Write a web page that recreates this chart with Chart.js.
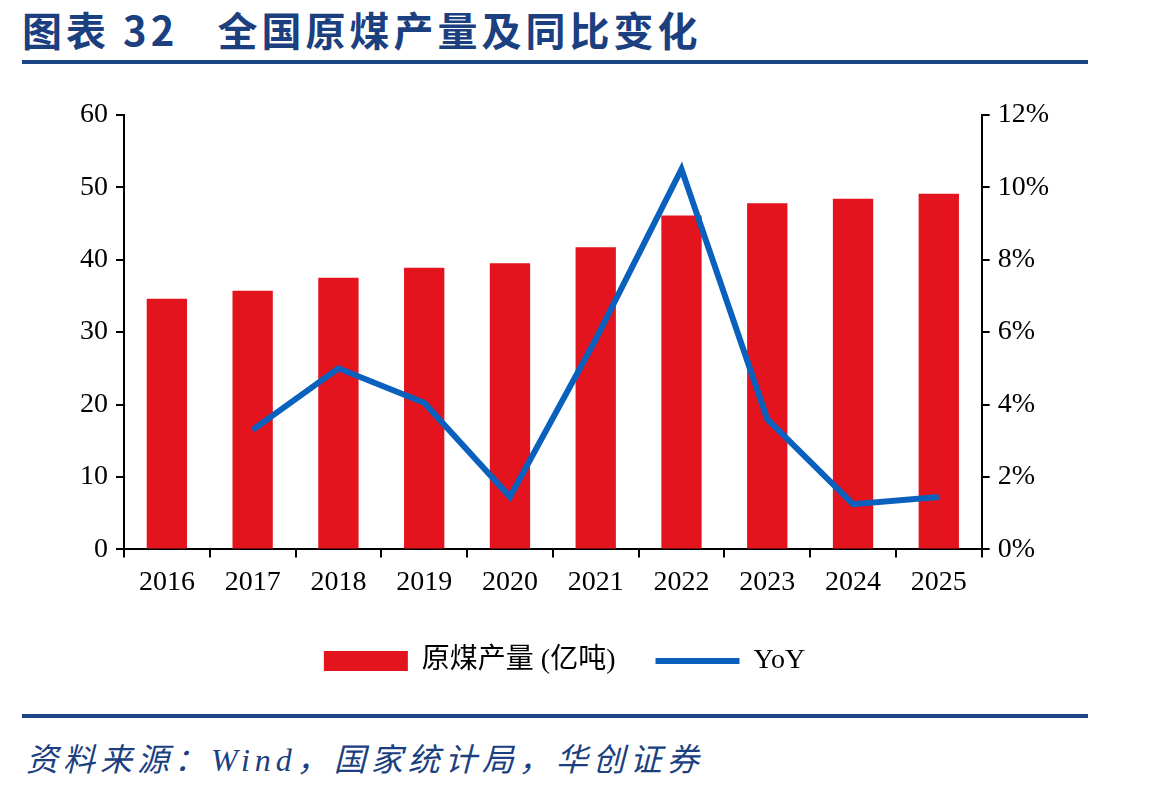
<!DOCTYPE html>
<html>
<head>
<meta charset="utf-8">
<script src="https://cdn.jsdelivr.net/npm/chart.js@4.4.1/dist/chart.umd.min.js"></script>
<style>
  body { margin: 0; background: #fff; width: 1149px; height: 792px; position: relative; overflow: hidden; }
  .title { position: absolute; left: 22px; top: 0px; font: bold 40px "Noto Sans CJK SC", serif; color: #1b3f7f; letter-spacing: 4px; white-space: pre; }
  .rule { position: absolute; left: 22px; width: 1066px; height: 4px; background: #1b4585; }
  .src { position: absolute; left: 26px; top: 734px; font: italic 32px "Liberation Serif", "Noto Sans CJK SC", serif; color: #1b3f7f; letter-spacing: 5px; }
  #box { position: absolute; left: 0; top: 90px; width: 1149px; height: 610px; }
</style>
</head>
<body>
<div class="title">图表 32   全国原煤产量及同比变化</div>
<div class="rule" style="top:60px"></div>
<div id="box"><canvas id="coalChart"></canvas></div>
<div class="rule" style="top:714px"></div>
<div class="src">资料来源：Wind，国家统计局，华创证券</div>
<script>
const years = ['2016', '2017', '2018', '2019', '2020', '2021', '2022', '2023', '2024', '2025'];
const output = [34.6, 35.7, 37.5, 38.9, 39.5, 41.7, 46.1, 47.8, 48.4, 49.1]; // 亿吨
const yoy = [null, 3.3, 5.0, 4.05, 1.45, 5.8, 10.5, 3.6, 1.25, 1.45]; // %

const serif = '"Liberation Serif", "Noto Sans CJK SC", serif';
const ctx = document.getElementById('coalChart').getContext('2d');

new Chart(ctx, {
    type: 'bar',
    data: {
        labels: years,
        datasets: [{
            label: '原煤产量 (亿吨)',
            data: output,
            backgroundColor: '#e3141e',
            borderWidth: 0,
            barPercentage: 0.47,
            categoryPercentage: 1,
            yAxisID: 'y',
            pointStyle: 'rect',
            order: 1
        }, {
            type: 'line',
            label: 'YoY',
            data: yoy,
            borderColor: '#0a60bd',
            backgroundColor: '#0a60bd',
            borderWidth: 6,
            pointRadius: 0,
            tension: 0,
            pointStyle: 'line',
            yAxisID: 'y1',
            order: 0
        }]
    },
    options: {
        responsive: true,
        maintainAspectRatio: false,
        animation: false,
        layout: { padding: { left: 72, right: 92, top: 19, bottom: 15 } },
        plugins: {
            tooltip: { enabled: false },
            legend: {
                position: 'bottom',
                reverse: true,
                labels: {
                    usePointStyle: true,
                    pointStyleWidth: 84,
                    boxHeight: 20,
                    padding: 40,
                    color: '#000',
                    font: { family: serif, size: 28 }
                }
            }
        },
        scales: {
            x: {
                offset: true,
                grid: { offset: true, drawOnChartArea: false, tickLength: 8, color: '#000', lineWidth: 2 },
                border: { color: '#000', width: 2 },
                ticks: { color: '#000', padding: 8, maxRotation: 0, font: { family: serif, size: 28 } }
            },
            y: {
                position: 'left',
                min: 0,
                max: 60,
                ticks: { stepSize: 10, color: '#000', padding: 8, font: { family: serif, size: 28 } },
                grid: { drawOnChartArea: false, tickLength: 8, color: '#000', lineWidth: 2 },
                border: { color: '#000', width: 2 }
            },
            y1: {
                position: 'right',
                min: 0,
                max: 12,
                ticks: {
                    stepSize: 2,
                    color: '#000',
                    padding: 8,
                    font: { family: serif, size: 28 },
                    callback: value => value + '%'
                },
                grid: { drawOnChartArea: false, tickLength: 8, color: '#000', lineWidth: 2 },
                border: { color: '#000', width: 2 }
            }
        }
    }
});
</script>
</body>
</html>
